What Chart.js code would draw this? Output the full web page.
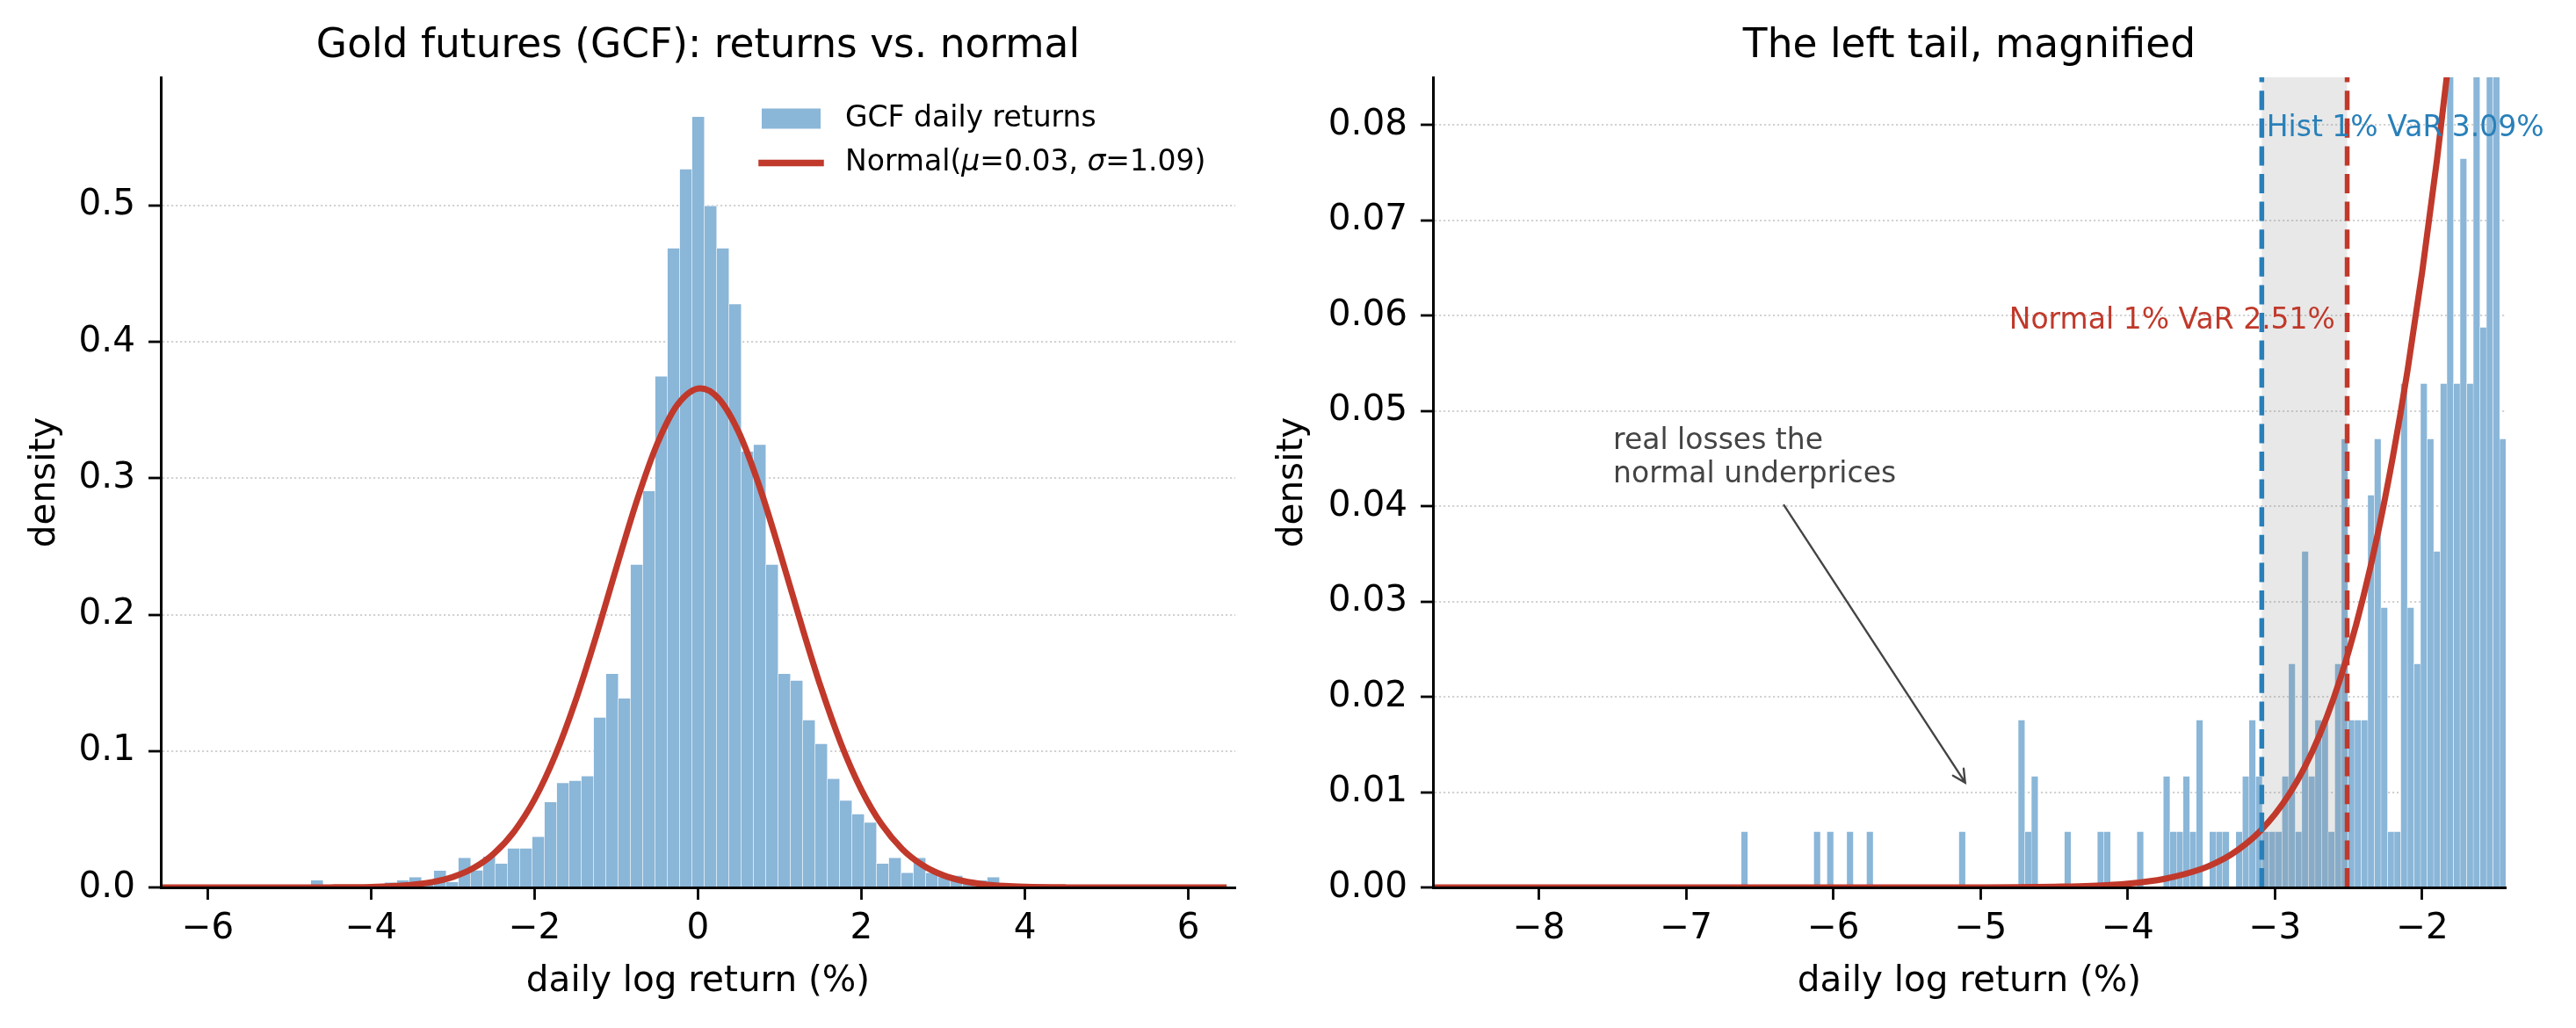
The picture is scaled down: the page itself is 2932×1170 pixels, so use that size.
<!DOCTYPE html>
<html>
<head>
<meta charset="utf-8">
<script src="https://cdn.jsdelivr.net/npm/chart.js@4.4.1/dist/chart.umd.min.js"></script>
<style>
  html, body { margin: 0; padding: 0; background: #fff; }
  body { width: 2932px; height: 1170px; position: relative; overflow: hidden; }
  canvas { position: absolute; top: 0; }
  #returns-chart { left: 0; }
  #tail-chart { left: 1440px; }
</style>
</head>
<body>
<canvas id="returns-chart" width="1466" height="1170"></canvas>
<canvas id="tail-chart" width="1492" height="1170"></canvas>
<script>
// Left panel: histogram of GCF daily log returns (density), equal-width bins
const returnsBinStart = -4.739;
const returnsBinWidth = 0.1505;
const returnsDensity = [
  0.0056, 0, 0, 0, 0, 0, 0.0039, 0.0056, 0.0078, 0.003,
  0.0127, 0.0043, 0.022, 0.0129, 0.023, 0.0179, 0.0289, 0.0289, 0.0375, 0.063,
  0.077, 0.0785, 0.082, 0.125, 0.157, 0.139, 0.237, 0.291, 0.375, 0.469,
  0.527, 0.5655, 0.500, 0.469, 0.428, 0.320, 0.325, 0.237, 0.157, 0.152,
  0.123, 0.1056, 0.080, 0.064, 0.054, 0.048, 0.0179, 0.022, 0.011, 0.022,
  0.011, 0.008, 0.009, 0.004, 0.0056, 0.0078,
];

// Right panel: same returns, finer bins, only the left tail is in view
const tailBinStart = -6.626;
const tailBinWidth = 0.0448;
const tailDensity = [
  0.0059, 0, 0, 0, 0, 0, 0, 0, 0, 0,
  0, 0.0059, 0, 0.0059, 0, 0, 0.0059, 0, 0, 0.0059,
  0, 0, 0, 0, 0, 0, 0, 0, 0, 0,
  0, 0, 0, 0.0059, 0, 0, 0, 0, 0, 0,
  0, 0, 0.0176, 0.0059, 0.0117, 0, 0, 0, 0, 0.0059,
  0, 0, 0, 0, 0.0059, 0.0059, 0, 0, 0, 0,
  0.0059, 0, 0, 0, 0.0117, 0.0059, 0.0059, 0.0117, 0.0059, 0.0176,
  0, 0.0059, 0.0059, 0.0059, 0, 0.0059, 0.0117, 0.0176, 0.0117, 0.0059,
  0.0059, 0.0059, 0.0117, 0.0235, 0.0059, 0.0353, 0.0117, 0.0176, 0.0176, 0.0059,
  0.0235, 0.0471, 0.0176, 0.0176, 0.0176, 0.0412, 0.0471, 0.0294, 0.0059, 0.0059,
  0.0529, 0.0294, 0.0235, 0.0529, 0.0471, 0.0353, 0.0529, 0.094, 0.0529, 0.0765,
  0.0529, 0.1, 0.0588, 0.094, 0.106, 0.0471,
];

// Fitted normal curve
const normalMu = 0.03;
const normalSigma = 1.09;
const normalX = [
  -6.575, -5.5, -5, -4.5, -4, -3.75, -3.5, -3.25, -3, -2.75,
  -2.5, -2.25, -2, -1.75, -1.5, -1.25, -1, -0.75, -0.5, -0.25,
  0.03, 0.25, 0.5, 0.75, 1, 1.25, 1.5, 1.75, 2, 2.25,
  2.5, 2.75, 3, 3.25, 3.5, 3.75, 4, 4.5, 5, 5.5, 6.47,
];
const normalY = [
  0, 0, 0.00001, 0.00007, 0.00039, 0.0009, 0.00193, 0.00395, 0.00768, 0.01416,
  0.02475, 0.04105, 0.06462, 0.09647, 0.13665, 0.18366, 0.2342, 0.28332, 0.32519, 0.35412,
  0.366, 0.35862, 0.33351, 0.29426, 0.24633, 0.19564, 0.14741, 0.10539, 0.07148, 0.046,
  0.02809, 0.01627, 0.00894, 0.00466, 0.00231, 0.00108, 0.00048, 0.00008, 0.00001, 0, 0,
];
const tailNormalX = [
  -8.72, -7, -6, -5.5, -5, -4.75, -4.5, -4.25, -4, -3.75,
  -3.5, -3.4, -3.3, -3.2, -3.1, -3, -2.9, -2.8, -2.7, -2.6,
  -2.5, -2.4, -2.3, -2.2, -2.1, -2, -1.9, -1.8, -1.7, -1.6,
];
const tailNormalY = [
  0, 0, 0, 0, 0.00001, 0.00002, 0.00007, 0.00016, 0.00039, 0.0009,
  0.00193, 0.00259, 0.00344, 0.00454, 0.00593, 0.00768, 0.00987, 0.01258, 0.0159, 0.01993,
  0.02475, 0.0305, 0.03725, 0.04514, 0.05423, 0.06462, 0.07633, 0.08941, 0.10388, 0.11965,
];

// 1% value-at-risk, in % daily log return
const histVaR = -3.09;
const normalVaR = -2.51;

// Axis ticks
const returnsXTicks = [-6, -4, -2, 0, 2, 4, 6];
const returnsYTicks = [0, 0.1, 0.2, 0.3, 0.4, 0.5];
const tailXTicks = [-8, -7, -6, -5, -4, -3, -2];
const tailYTicks = [0, 0.01, 0.02, 0.03, 0.04, 0.05, 0.06, 0.07, 0.08];

// Annotation anchors (data units)
const histLabelAt = { x: -3.058, y: 0.0796 };
const normalLabelAt = { x: -2.591, y: 0.0594 };
const noteAt = { x: -7.496, y: 0.0468 };
const arrowFrom = { x: -6.335, y: 0.0401 };
const arrowTo = { x: -5.105, y: 0.011 };

const FONT = "'DejaVu Sans', sans-serif";
Chart.defaults.font.family = FONT;
Chart.defaults.color = '#000';

const barColor = '#8ab6d8';
const curveColor = '#c0392b';
const histColor = '#2980b9';
const noteColor = '#444444';

const signed = (v, digits) => {
  const s = Math.abs(v).toFixed(digits);
  return v < 0 ? '\u2212' + s : s;
};
const binned = (start, width, values) => values.map((y, i) => ({ x: start + width * (i + 0.5), y }));
const paired = (xs, ys) => xs.map((x, i) => ({ x, y: ys[i] }));

const xAxis = (min, max, ticks) => ({
  type: 'linear',
  min, max,
  offset: false,
  afterBuildTicks: (s) => { s.ticks = ticks.map((v) => ({ value: v })); },
  afterFit: (s) => { s.height = 160; },
  grid: {
    offset: false,
    drawOnChartArea: false,
    drawTicks: true,
    tickLength: 14,
    tickWidth: 2.8,
    tickColor: '#000',
  },
  border: { display: true, color: '#000', width: 3, z: 1 },
  ticks: {
    padding: 9,
    font: { size: 40.5 },
    color: '#000',
    maxRotation: 0,
    autoSkip: false,
    callback: (v) => signed(v, 0),
  },
  title: {
    display: true,
    text: 'daily log return (%)',
    font: { size: 40.5 },
    color: '#000',
    padding: { top: 0, bottom: 28.7 },
  },
});

const yAxis = (max, ticks, digits, width, titlePad) => ({
  type: 'linear',
  min: 0,
  max,
  afterBuildTicks: (s) => { s.ticks = ticks.map((v) => ({ value: v })); },
  afterFit: (s) => { s.width = width; },
  grid: {
    color: '#d2d2d2',
    lineWidth: 2,
    drawTicks: true,
    tickLength: 14,
    tickWidth: 2.8,
    tickColor: '#000',
  },
  border: { display: true, color: '#000', width: 3, dash: [2.2, 2.8], z: 1 },
  ticks: {
    padding: 15,
    font: { size: 40.5 },
    color: '#000',
    autoSkip: false,
    callback: (v) => v.toFixed(digits),
  },
  title: {
    display: true,
    text: 'density',
    font: { size: 40.5 },
    color: '#000',
    padding: { top: titlePad, bottom: 0 },
  },
});

const histDataset = (data) => ({
  type: 'bar',
  data,
  backgroundColor: barColor,
  borderColor: '#ffffff',
  borderWidth: { top: 1, left: 0.5, right: 0.5, bottom: 0 },
  barPercentage: 1,
  categoryPercentage: 1,
  clip: 0,
  order: 2,
});

const curveDataset = (data) => ({
  type: 'line',
  data,
  borderColor: curveColor,
  borderWidth: 7,
  pointRadius: 0,
  cubicInterpolationMode: 'monotone',
  fill: false,
  clip: 0,
  order: 1,
});

const drawTitle = (chart, text) => {
  const { ctx, chartArea: a } = chart;
  ctx.save();
  ctx.fillStyle = '#000';
  ctx.font = `45.5px ${FONT}`;
  ctx.textAlign = 'center';
  ctx.textBaseline = 'alphabetic';
  ctx.fillText(text, (a.left + a.right) / 2, 65);
  ctx.restore();
};

// Left panel: title and a frameless legend in the upper right
const returnsDecor = {
  id: 'returnsDecor',
  afterDraw(chart) {
    drawTitle(chart, 'Gold futures (GCF): returns vs. normal');
    const { ctx } = chart;
    const hx = 867, hw = 67, tx = 962, row1 = 135, row2 = 185.5;
    ctx.save();
    ctx.fillStyle = barColor;
    ctx.fillRect(hx, row1 - 11.5, hw, 23);
    ctx.strokeStyle = curveColor;
    ctx.lineWidth = 7.5;
    ctx.lineCap = 'square';
    ctx.beginPath();
    ctx.moveTo(hx, row2);
    ctx.lineTo(hx + hw, row2);
    ctx.stroke();
    ctx.fillStyle = '#000';
    ctx.textAlign = 'left';
    ctx.textBaseline = 'middle';
    ctx.font = `33px ${FONT}`;
    ctx.fillText('GCF daily returns', tx, row1);
    // mu and sigma are set in italic, like mathtext
    const parts = [
      ['Normal(', false], ['\u03bc', true], [`=${normalMu.toFixed(2)}, `, false],
      ['\u03c3', true], [`=${normalSigma.toFixed(2)})`, false],
    ];
    let x = tx;
    parts.forEach(([s, italic]) => {
      ctx.font = `${italic ? 'italic ' : ''}33px ${FONT}`;
      ctx.fillText(s, x, row2);
      x += ctx.measureText(s).width;
    });
    ctx.restore();
  },
};

// Right panel: VaR band over the bars, VaR lines, labels and the arrow note
const tailDecor = {
  id: 'tailDecor',
  afterDatasetDraw(chart, args) {
    if (args.meta.type !== 'bar') return;
    const { ctx, chartArea: a, scales: { x } } = chart;
    const x1 = x.getPixelForValue(histVaR);
    const x2 = x.getPixelForValue(normalVaR);
    ctx.save();
    ctx.fillStyle = 'rgba(128,128,128,0.18)';
    ctx.fillRect(x1, a.top, x2 - x1, a.bottom - a.top);
    ctx.restore();
  },
  afterDatasetsDraw(chart) {
    const { ctx, chartArea: a, scales: { x, y } } = chart;
    ctx.save();
    const vline = (v, color) => {
      const px = x.getPixelForValue(v);
      ctx.strokeStyle = color;
      ctx.lineWidth = 5.5;
      ctx.setLineDash([22, 9.6]);
      ctx.beginPath();
      ctx.moveTo(px, a.bottom);
      ctx.lineTo(px, a.top);
      ctx.stroke();
    };
    vline(histVaR, histColor);
    vline(normalVaR, curveColor);
    ctx.setLineDash([]);

    ctx.font = `33px ${FONT}`;
    ctx.textBaseline = 'middle';
    ctx.fillStyle = histColor;
    ctx.textAlign = 'left';
    ctx.fillText(`Hist 1% VaR ${Math.abs(histVaR).toFixed(2)}%`,
      x.getPixelForValue(histLabelAt.x), y.getPixelForValue(histLabelAt.y));
    ctx.fillStyle = curveColor;
    ctx.textAlign = 'right';
    ctx.fillText(`Normal 1% VaR ${Math.abs(normalVaR).toFixed(2)}%`,
      x.getPixelForValue(normalLabelAt.x), y.getPixelForValue(normalLabelAt.y));

    // note text
    ctx.fillStyle = noteColor;
    ctx.textAlign = 'left';
    const nx = x.getPixelForValue(noteAt.x);
    const ny = y.getPixelForValue(noteAt.y);
    ctx.fillText('real losses the', nx, ny);
    ctx.fillText('normal underprices', nx, ny + 38.5);

    // arrow with an open head
    const sx = x.getPixelForValue(arrowFrom.x), sy = y.getPixelForValue(arrowFrom.y);
    const ex = x.getPixelForValue(arrowTo.x), ey = y.getPixelForValue(arrowTo.y);
    const ang = Math.atan2(ey - sy, ex - sx);
    const head = 16, spread = 27 * Math.PI / 180;
    ctx.strokeStyle = noteColor;
    ctx.lineWidth = 2.4;
    ctx.lineCap = 'round';
    ctx.beginPath();
    ctx.moveTo(sx, sy);
    ctx.lineTo(ex, ey);
    ctx.moveTo(ex - head * Math.cos(ang - spread), ey - head * Math.sin(ang - spread));
    ctx.lineTo(ex, ey);
    ctx.lineTo(ex - head * Math.cos(ang + spread), ey - head * Math.sin(ang + spread));
    ctx.stroke();
    ctx.restore();
  },
  afterDraw(chart) {
    drawTitle(chart, 'The left tail, magnified');
  },
};

const baseOptions = {
  responsive: false,
  animation: false,
  devicePixelRatio: 1,
  events: [],
  plugins: { legend: { display: false }, tooltip: { enabled: false }, title: { display: false } },
};

new Chart(document.getElementById('returns-chart'), {
  type: 'bar',
  data: {
    datasets: [
      histDataset(binned(returnsBinStart, returnsBinWidth, returnsDensity)),
      curveDataset(paired(normalX, normalY)),
    ],
  },
  options: {
    ...baseOptions,
    layout: { padding: { left: 0, top: 88, right: 60, bottom: 0 } },
    scales: {
      x: xAxis(-6.575, 6.575, returnsXTicks),
      y: yAxis(0.594, returnsYTicks, 1, 183, 27.2),
    },
  },
  plugins: [returnsDecor],
});

new Chart(document.getElementById('tail-chart'), {
  type: 'bar',
  data: {
    datasets: [
      histDataset(binned(tailBinStart, tailBinWidth, tailDensity)),
      curveDataset(paired(tailNormalX, tailNormalY)),
    ],
  },
  options: {
    ...baseOptions,
    layout: { padding: { left: 0, top: 88, right: 80, bottom: 0 } },
    scales: {
      x: xAxis(-8.72, -1.433, tailXTicks),
      y: yAxis(0.085, tailYTicks, 2, 191, 6.7),
    },
  },
  plugins: [tailDecor],
});
</script>
</body>
</html>
